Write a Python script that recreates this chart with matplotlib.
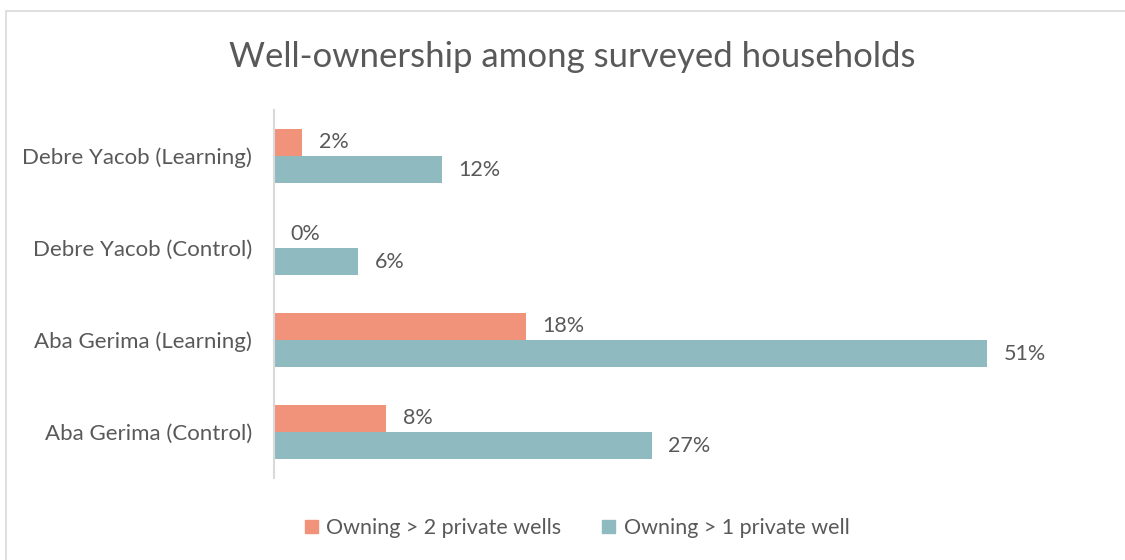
import matplotlib.pyplot as plt
from matplotlib.patches import Rectangle, Patch
import numpy as np

plt.rcParams['font.family'] = ['Lato', 'DejaVu Sans']

sites = ['Debre Yacob (Learning)', 'Debre Yacob (Control)',
         'Aba Gerima (Learning)', 'Aba Gerima (Control)']
two_wells = [2, 0, 18, 8]
one_well = [12, 6, 51, 27]
series_names = ['Owning > 2 private wells', 'Owning > 1 private well']

salmon = '#F0937A'
teal = '#8FBBC0'
text_col = '#595959'

fig = plt.figure(figsize=(11.25, 5.6), dpi=100)

# light frame around the chart area (runs off the right and bottom edges)
fig.patches.append(Rectangle((6 / 1125, -0.1), 1.2, 1.1 - 11 / 560, transform=fig.transFigure,
                             fill=False, edgecolor='#D9D9D9', linewidth=1.2))

ax = fig.add_axes([274 / 1125, 82 / 560, 1 - 274 / 1125 - 12 / 1125, 368 / 560])

y = np.arange(len(sites))
h = 0.295
ax.barh(y - h / 2, two_wells, height=h, color=salmon)
ax.barh(y + h / 2, one_well, height=h, color=teal)

for yi, v in zip(y, two_wells):
    ax.annotate(f'{v}%', (v, yi - h / 2), xytext=(12, 0), textcoords='offset points',
                va='center', ha='left', fontsize=15.5, color=text_col)
for yi, v in zip(y, one_well):
    ax.annotate(f'{v}%', (v, yi + h / 2), xytext=(12, 0), textcoords='offset points',
                va='center', ha='left', fontsize=15.5, color=text_col)

ax.set_ylim(len(sites) - 0.5, -0.5)
ax.set_xlim(0, 60)
ax.set_yticks(y)
ax.set_yticklabels(sites, fontsize=16, color=text_col)
ax.tick_params(axis='y', length=0, pad=16)
ax.set_xticks([])
for side in ['top', 'right', 'bottom']:
    ax.spines[side].set_visible(False)
ax.spines['left'].set_color('#D9D9D9')
ax.spines['left'].set_linewidth(1.5)

fig.text(572 / 1125, 1 - 57 / 560, 'Well-ownership among surveyed households',
         ha='center', va='center', fontsize=25, color=text_col)

handles = [Patch(color=salmon), Patch(color=teal)]
fig.legend(handles, series_names, loc='center', bbox_to_anchor=(577 / 1125, 1 - 528 / 560),
           ncol=2, frameon=False, fontsize=15.5, labelcolor=text_col,
           handlelength=0.6, handleheight=0.6, handletextpad=0.4, columnspacing=1.9)

fig.savefig('out.png', dpi=100, facecolor='white')
